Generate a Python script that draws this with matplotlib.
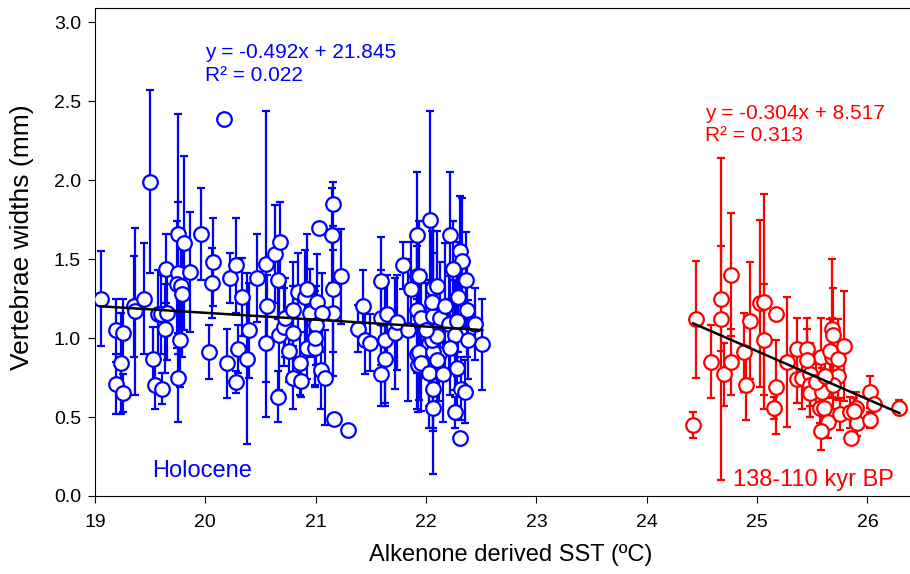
import matplotlib
matplotlib.use('Agg')
import matplotlib.pyplot as plt
import numpy as np

plt.rcParams['font.family'] = ['Liberation Sans', 'DejaVu Sans']

# Holocene: SST (C), vertebrae width (mm), error (mm)
holo_sst = [19.05, 19.19, 19.25, 19.24, 19.19, 19.25, 19.35, 19.36, 19.44, 19.50,
            19.53, 19.54, 19.61, 19.57, 19.60, 19.64, 19.63, 19.65, 19.75, 19.81,
            19.75, 19.74, 19.78, 19.79, 19.77, 19.75, 19.86, 19.96, 20.17, 20.07,
            20.06, 20.03, 20.20, 20.22, 20.28, 20.28, 20.30, 20.33, 20.38, 20.40,
            20.47, 20.55, 20.55, 20.56, 20.63, 20.68, 20.66, 20.66, 20.67, 20.71,
            20.72, 20.79, 20.79, 20.76, 20.79, 20.84, 20.86, 20.87, 20.90, 20.92,
            20.95, 20.92, 20.99, 21.01, 21.03, 21.16, 21.15, 21.23, 21.16, 21.16,
            21.06, 21.00, 20.99, 21.05, 21.08, 21.17, 21.29, 21.43, 21.38, 21.45,
            21.49, 21.59, 21.59, 21.65, 21.63, 21.63, 21.59, 21.72, 21.74, 21.79,
            21.86, 21.84, 21.92, 21.92, 21.92, 21.92, 21.93, 22.04, 22.22, 22.31,
            22.33, 22.24, 21.94, 22.36, 22.06, 22.10, 22.29, 21.95, 22.06, 22.13,
            22.05, 22.21, 22.37, 22.44, 22.51, 22.03, 22.26, 22.38, 21.94, 22.12,
            21.95, 22.06, 22.28, 22.03, 22.15, 22.06, 22.32, 22.35, 22.06, 22.26,
            22.31, 22.10, 22.05, 22.10, 22.22, 22.28, 22.17, 22.00]
holo_width = [1.25, 1.05, 1.03, 0.84, 0.71, 0.65, 1.20, 1.17, 1.25, 1.99,
              0.87, 0.70, 0.68, 1.15, 1.15, 1.44, 1.06, 1.16, 1.66, 1.60,
              1.41, 1.34, 1.33, 1.28, 0.99, 0.75, 1.42, 1.66, 2.39, 1.48,
              1.35, 0.91, 0.84, 1.38, 1.46, 0.72, 0.93, 1.26, 0.87, 1.05,
              1.38, 1.47, 0.97, 1.20, 1.53, 1.61, 1.37, 0.63, 1.02, 1.07,
              1.13, 1.18, 1.03, 0.92, 0.75, 1.29, 0.84, 0.73, 1.26, 1.31,
              1.16, 0.94, 0.94, 1.23, 1.70, 1.85, 1.65, 1.39, 1.31, 1.16,
              1.16, 1.08, 1.00, 0.80, 0.75, 0.49, 0.42, 1.20, 1.06, 0.99,
              0.97, 1.36, 1.13, 1.15, 0.99, 0.87, 0.77, 1.03, 1.10, 1.46,
              1.31, 1.05, 1.65, 1.39, 1.18, 0.90, 0.83, 1.75, 1.65, 1.55,
              1.49, 1.44, 1.39, 1.37, 1.32, 1.33, 1.26, 1.13, 1.14, 1.13,
              1.23, 1.09, 1.18, 1.09, 0.96, 0.97, 1.02, 0.99, 0.91, 0.90,
              0.84, 0.91, 0.81, 0.78, 0.77, 0.68, 0.68, 0.66, 0.56, 0.53,
              0.37, 0.86, 0.99, 1.01, 0.94, 1.11, 1.20, 1.05]
holo_err = [0.30, 0.20, 0.22, 0.32, 0.19, 0.12, 0.32, 0.53, 0.35, 0.58,
            0.20, 0.15, 0.10, 0.28, 0.25, 0.22, 0.28, 0.30, 0.76, 0.55,
            0.45, 0.40, 0.35, 0.40, 0.30, 0.28, 0.38, 0.29, 0.00, 0.28,
            0.22, 0.17, 0.22, 0.16, 0.30, 0.07, 0.15, 0.25, 0.54, 0.30,
            0.28, 0.97, 0.25, 0.20, 0.31, 0.25, 0.25, 0.16, 0.35, 0.25,
            0.25, 0.30, 0.30, 0.20, 0.20, 0.25, 0.20, 0.10, 0.30, 0.35,
            0.28, 0.20, 0.25, 0.30, 0.00, 0.14, 0.30, 0.30, 0.40, 0.40,
            0.25, 0.25, 0.30, 0.25, 0.30, 0.00, 0.00, 0.23, 0.15, 0.22,
            0.18, 0.28, 0.30, 0.25, 0.40, 0.30, 0.20, 0.35, 0.30, 0.15,
            0.30, 0.45, 0.40, 0.30, 0.40, 0.35, 0.30, 0.69, 0.40, 0.35,
            0.40, 0.30, 0.35, 0.30, 0.40, 0.35, 0.35, 0.30, 0.40, 0.35,
            0.45, 0.30, 0.30, 0.23, 0.29, 0.40, 0.35, 0.25, 0.30, 0.30,
            0.30, 0.77, 0.30, 0.35, 0.30, 0.25, 0.20, 0.20, 0.15, 0.10,
            0.00, 0.30, 0.30, 0.35, 0.30, 0.35, 0.40, 0.30]

# 138-110 kyr BP
lig_sst = [24.42, 24.45, 24.58, 24.67, 24.67, 24.70, 24.76, 24.76, 24.88, 24.90,
           24.94, 25.03, 25.06, 25.06, 25.17, 25.17, 25.15, 25.27, 25.36, 25.36,
           25.45, 25.41, 25.48, 25.48, 25.48, 25.58, 25.59, 25.57, 25.61, 25.64,
           25.58, 25.68, 25.69, 25.68, 25.66, 25.73, 25.79, 25.73, 25.69, 25.75,
           25.84, 25.85, 25.90, 25.91, 26.02, 26.02, 26.06, 26.29, 25.88, 25.53,
           25.62, 25.45]
lig_width = [0.45, 1.12, 0.85, 1.25, 1.12, 0.77, 1.40, 0.85, 0.91, 0.70,
             1.11, 1.22, 1.23, 0.99, 1.15, 0.69, 0.56, 0.85, 0.93, 0.74,
             0.93, 0.75, 0.77, 0.70, 0.65, 0.88, 0.66, 0.56, 0.56, 0.47,
             0.41, 1.06, 1.02, 0.88, 0.92, 0.87, 0.95, 0.76, 0.70, 0.52,
             0.53, 0.37, 0.56, 0.46, 0.66, 0.48, 0.58, 0.56, 0.54, 0.72,
             0.76, 0.86]
lig_err = [0.08, 0.37, 0.23, 0.33, 1.02, 0.20, 0.39, 0.21, 0.25, 0.22,
           0.37, 0.53, 0.68, 0.35, 0.00, 0.30, 0.07, 0.41, 0.20, 0.15,
           0.20, 0.20, 0.20, 0.20, 0.15, 0.25, 0.15, 0.10, 0.12, 0.10,
           0.12, 0.44, 0.30, 0.25, 0.20, 0.25, 0.35, 0.15, 0.15, 0.10,
           0.10, 0.00, 0.10, 0.08, 0.10, 0.05, 0.08, 0.05, 0.08, 0.15,
           0.12, 0.20]

# trend lines (slope, intercept) as drawn
holo_fit = (-0.0435, 2.03)
lig_fit = (-0.304, 8.517)

fig = plt.figure(figsize=(9.1, 5.74), dpi=100)
# plot frame runs past the right edge of the picture (cropped original)
ax = fig.add_axes([95 / 910, 78 / 574, 832 / 910, 488 / 574])

for sst, w, e, col in [(holo_sst, holo_width, holo_err, 'blue'),
                       (lig_sst, lig_width, lig_err, 'red')]:
    ax.errorbar(sst, w, yerr=e, fmt='o', color=col, ecolor=col,
                markerfacecolor='white', markeredgecolor=col,
                markersize=10.5, markeredgewidth=1.6, elinewidth=1.6,
                capsize=3, capthick=1.6, zorder=3)

for sst, (m, b) in [(holo_sst, holo_fit), (lig_sst, lig_fit)]:
    xs = np.array([min(sst), max(sst)])
    ax.plot(xs, m * xs + b, color='black', lw=1.8, zorder=5)

# regression annotations
ax.text(20.0, 2.81, 'y = -0.492x + 21.845', color='blue', fontsize=15, va='center')
ax.text(20.0, 2.66, 'R\u00b2 = 0.022', color='blue', fontsize=15, va='center')
ax.text(24.53, 2.42, 'y = -0.304x + 8.517', color='red', fontsize=15, va='center')
ax.text(24.53, 2.28, 'R\u00b2 = 0.313', color='red', fontsize=15, va='center')
ax.text(19.52, 0.16, 'Holocene', color='blue', fontsize=17, va='center')
ax.text(24.78, 0.10, '138-110 kyr BP', color='red', fontsize=17, va='center')

ax.set_xlim(19, 26.54)
ax.set_ylim(0, 3.09)
ax.set_xticks(range(19, 27))
ax.set_yticks(np.arange(0, 3.01, 0.5))
ax.set_yticklabels(['%.1f' % v for v in np.arange(0, 3.01, 0.5)])
ax.tick_params(direction='out', length=5, labelsize=14)
ax.tick_params(axis='x', pad=8)
ax.tick_params(axis='y', pad=5)
ax.set_xlabel('Alkenone derived SST (\u00baC)', fontsize=17, labelpad=9)
ax.set_ylabel('Vertebrae widths (mm)', fontsize=19)
ax.yaxis.set_label_coords(-0.073, 0.53)

plt.savefig('out.png', dpi=100)
